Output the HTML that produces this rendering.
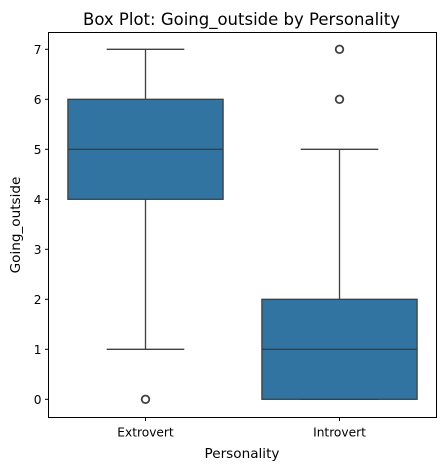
<!DOCTYPE html>
<html><head><meta charset="utf-8"><style>
html,body{margin:0;padding:0;background:#fff;width:445px;height:470px;overflow:hidden}
text{font-family:"DejaVu Sans","Liberation Sans",sans-serif}
</style></head><body>
<svg id="chart" width="445" height="470" xmlns="http://www.w3.org/2000/svg">
<text x="241.5" y="25" text-anchor="middle" font-size="16.5" fill="#000">Box Plot: Going_outside by Personality</text>
<g id="marks"></g>
<rect x="48.5" y="32.5" width="388" height="385" fill="none" stroke="#000" stroke-width="1"/>
<text x="242" y="458" text-anchor="middle" font-size="13.6" fill="#000">Personality</text>
<text transform="translate(20,225) rotate(-90)" text-anchor="middle" font-size="13.6" fill="#000">Going_outside</text>
</svg>
<script>
const categories = ["Extrovert","Introvert"];
const q1 = [4, 0];
const medians = [5, 1];
const q3 = [6, 2];
const whiskerLow = [1, 0];
const whiskerHigh = [7, 5];
const outliers = [[0], [6, 7]];
const yTicks = [0,1,2,3,4,5,6,7];

const plotL = 48.5, plotR = 436.5, plotT = 32.5, plotB = 417.5;
const y0 = 399.3, yScale = 50;
function yPos(v){ return y0 - v*yScale; }
const band = (plotR - plotL) / categories.length;
function xPos(i){ return plotL + band*(i+0.5); }
const boxW = band*0.8;
const ns = "http://www.w3.org/2000/svg";
const g = document.getElementById('marks');
const svg = document.getElementById('chart');
function mk(tag, attrs, parent){ const e=document.createElementNS(ns,tag); for(const k in attrs) e.setAttribute(k,attrs[k]); (parent||g).appendChild(e); return e; }
const line = "#3f3f3f";

yTicks.forEach(t=>{
  const y = yPos(t);
  const tk = mk('line',{x1:plotL-3.5,x2:plotL,y1:y,y2:y,stroke:'#000','stroke-width':1},svg);
  
  
  const lb = mk('text',{x:plotL-7,y:y+4.5,'text-anchor':'end','font-size':12.2,fill:'#000'},svg);
  lb.textContent = t;
  
  
});

categories.forEach((c,i)=>{
  const cx = xPos(i);
  const tk = mk('line',{x1:cx,x2:cx,y1:plotB,y2:plotB+3.5,stroke:'#000','stroke-width':1},svg);
  
  
  const lb = mk('text',{x:cx,y:plotB+19,'text-anchor':'middle','font-size':12.2,fill:'#000'},svg);
  lb.textContent = c;
  
  

  const wl = mk('line',{x1:cx,x2:cx,y1:yPos(whiskerLow[i]),y2:yPos(q1[i]),stroke:line,'stroke-width':1.3});
  
  
  const wh = mk('line',{x1:cx,x2:cx,y1:yPos(q3[i]),y2:yPos(whiskerHigh[i]),stroke:line,'stroke-width':1.3});
  
  
  const cl = mk('line',{x1:cx-boxW/4,x2:cx+boxW/4,y1:yPos(whiskerLow[i]),y2:yPos(whiskerLow[i]),stroke:line,'stroke-width':1.3});
  
  
  const ch = mk('line',{x1:cx-boxW/4,x2:cx+boxW/4,y1:yPos(whiskerHigh[i]),y2:yPos(whiskerHigh[i]),stroke:line,'stroke-width':1.3});
  
  
  const bx = mk('rect',{x:cx-boxW/2,y:yPos(q3[i]),width:boxW,height:Math.max(yPos(q1[i])-yPos(q3[i]),0),fill:'#3274a1',stroke:line,'stroke-width':1.3});
  
  
  const md = mk('line',{x1:cx-boxW/2,x2:cx+boxW/2,y1:yPos(medians[i]),y2:yPos(medians[i]),stroke:line,'stroke-width':1.3});
  
  
  outliers[i].forEach(v=>{
    const o = mk('circle',{cx:cx,cy:yPos(v),r:3.8,fill:'none',stroke:line,'stroke-width':1.8});
    
    
  });
});
</script>
</body></html>
